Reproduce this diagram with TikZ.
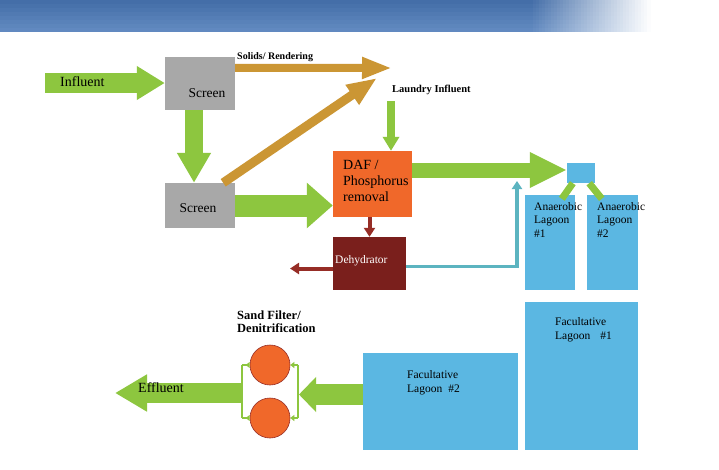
\documentclass[tikz,border=0pt]{standalone}
\usepackage{fontspec}
\setmainfont{Liberation Serif}
\usetikzlibrary{arrows.meta}
\definecolor{gr}{RGB}{141,198,63}
\definecolor{scrgray}{RGB}{168,168,168}
\definecolor{gold}{RGB}{203,150,52}
\definecolor{dafor}{RGB}{240,104,42}
\definecolor{dkred}{RGB}{122,31,28}
\definecolor{arred}{RGB}{150,45,38}
\definecolor{lagblue}{RGB}{91,183,226}
\definecolor{teal}{RGB}{92,180,192}
\definecolor{bandark}{RGB}{68,110,168}
\definecolor{banlight}{RGB}{98,138,192}
\begin{document}
\begin{tikzpicture}[x=1pt,y=-1pt,
  box/.style={rectangle,inner sep=0pt,draw=none},
  txt/.style={inner sep=0pt,anchor=west,align=left,text=black},
  fs/.style n args={2}{font=\fontsize{#1}{#2}\selectfont},
  fsb/.style n args={2}{font=\fontsize{#1}{#2}\selectfont\bfseries},
  brk/.style={draw=gr,line width=2.6pt}
]
\useasboundingbox (0,0) rectangle (719,469);
\fill[white] (0,0) rectangle (719,469);
% banner
\foreach \j in {0,...,7}{
  \pgfmathtruncatemacro\qq{100-\j*14}
  \fill[bandark!\qq!banlight] (0,4*\j) rectangle (531,4.5+4*\j);
  \foreach \i in {0,...,39}{
    \pgfmathtruncatemacro\pp{100-\i*2.5}
    \fill[bandark!\qq!banlight!\pp!white] (530+3*\i,4*\j) rectangle (533.5+3*\i,4.5+4*\j);
  }
}
\fill[white] (0,32) rectangle (719,37);

% boxes
\node[box,fill=scrgray,minimum width=70pt,minimum height=53pt] (scr1) at (200,83.5) {};
\node[box,fill=scrgray,minimum width=70pt,minimum height=45pt] (scr2) at (200,205.5) {};
\node[box,fill=dafor,minimum width=79pt,minimum height=66pt] (daf) at (372.5,184) {};
\node[box,fill=dkred,minimum width=73pt,minimum height=53pt] (dehy) at (369.5,263.5) {};
\node[box,fill=lagblue,minimum width=28pt,minimum height=20pt] (sq) at (581,173) {};
\node[box,fill=lagblue,minimum width=50pt,minimum height=95pt] (an1) at (550,242.5) {};
\node[box,fill=lagblue,minimum width=51pt,minimum height=95pt] (an2) at (612.5,242.5) {};
\node[box,fill=lagblue,minimum width=113pt,minimum height=148pt] (fac1) at (581.5,376) {};
\node[box,fill=lagblue,minimum width=155pt,minimum height=97pt] (fac2) at (440.5,401.5) {};
\node[circle,fill=dafor,draw=arred,line width=0.6pt,minimum size=40pt,inner sep=0pt] (c1) at (270,365) {};
\node[circle,fill=dafor,draw=arred,line width=0.6pt,minimum size=40pt,inner sep=0pt] (c2) at (270,418) {};

% free ends
\coordinate (inflS) at (45,83);
\coordinate (rendA) at (392,68);
\coordinate (rendB) at (377,78);
\coordinate (laun) at (391,101);
\coordinate (dout) at (290,268.5);
\coordinate (tealtip) at (517,181);
\coordinate (bL) at (242,393);
\coordinate (bR) at (298,393);
\coordinate (brR) at (299,394.5);
\coordinate (effl) at (115,393);

% green fat arrows
\draw[draw=gr,line width=20pt,-{Triangle[length=28pt,width=32pt]}] (inflS) -- (inflS -| scr1.west);
\draw[draw=gr,line width=18pt,-{Triangle[length=30pt,width=32pt]}] ([xshift=-6pt]scr1.south) -- ([xshift=-6pt]scr2.north);
\draw[draw=gr,line width=22pt,-{Triangle[length=26pt,width=44pt]}] (scr2.east) -- (scr2.east -| daf.west);
\draw[draw=gr,line width=8pt,-{Triangle[length=14pt,width=16pt]}] (laun) -- (laun |- daf.north);
\draw[draw=gr,line width=15pt,-{Triangle[length=37pt,width=33pt]}] ([yshift=14pt]daf.east) -- ([yshift=14pt]daf.east -| sq.west);
\draw[draw=gr,line width=7pt] ([xshift=6pt]sq.south west) -- ([xshift=37pt,yshift=-4pt]an1.north west);
\draw[draw=gr,line width=7pt] ([xshift=-6pt]sq.south east) -- ([xshift=15pt,yshift=-4pt]an2.north west);
% gold arrows
\draw[draw=gold,line width=8pt,-{Triangle[length=30pt,width=20pt]}] ([yshift=-11pt]scr1.north east) -- (rendA);
\draw[draw=gold,line width=9pt,-{Triangle[length=30pt,width=22pt]}] ([xshift=-12pt]scr2.north east) -- (rendB);
% dehydrator arrows
\draw[draw=arred,line width=4pt,-{Triangle[length=9pt,width=11pt]}] ([xshift=-3pt]daf.south) -- ([xshift=-3pt]daf.south |- dehy.north);
\draw[draw=arred,line width=4pt,-{Triangle[length=9pt,width=11pt]}] ([yshift=-5pt]dehy.west) -- (dout);
\draw[draw=teal,line width=3.5pt,-{Triangle[length=8pt,width=10pt]}] ([yshift=-3pt]dehy.east) -| (tealtip);
% sand filter
\draw[draw=gr,line width=21pt,-{Triangle[length=17pt,width=34pt]}] ([yshift=7pt]fac2.west) -- (brR);
\draw[brk] (c1.east -| bR) -- (c2.east -| bR);
\draw[brk] (c1.west -| bL) -- (c2.west -| bL);
\draw[brk,-{Triangle[length=4pt,width=6pt]}] (c1.east -| bR) -- (c1.east);
\draw[brk,-{Triangle[length=4pt,width=6pt]}] (c2.east -| bR) -- (c2.east);
\draw[brk,-{Triangle[length=4pt,width=6pt,reversed]}] (c1.west -| bL) -- (c1.west);
\draw[brk,-{Triangle[length=4pt,width=6pt,reversed]}] (c2.west -| bL) -- (c2.west);
\draw[draw=gr,line width=20pt,-{Triangle[length=32pt,width=35pt]}] (bL) -- (effl);

% texts
\node[txt,fs={14}{16}] (tinf) at (60,82) {Influent};
\node[txt,fs={13.5}{15},anchor=center] (tscr1) at (207,93) {Screen};
\node[txt,fs={13.5}{15},anchor=center] (tscr2) at (198,208) {Screen};
\node[txt,fsb={10}{12}] (tsol) at (237,57.5) {Solids/ Rendering};
\node[txt,fsb={10.5}{12}] (tlau) at (392,90) {Laundry Influent};
\node[txt,fs={14}{16}] (tdaf) at (343,181) {DAF /\\Phosphorus\\removal};
\node[txt,fs={11.5}{13},text=white] (tdeh) at (335,261) {Dehydrator};
\node[txt,fs={11.5}{13.5}] (tan1) at (534,220) {Anaerobic\\Lagoon\\\#1};
\node[txt,fs={11.5}{13.5}] (tan2) at (597,220) {Anaerobic\\Lagoon\\\#2};
\node[txt,fs={11.5}{14}] (tfa1) at (555,330) {Facultative\\Lagoon\hspace{10pt}\#1};
\node[txt,fs={11.5}{14}] (tfa2) at (407,383) {Facultative\\Lagoon\hspace{6pt}\#2};
\node[txt,fs={14}{16}] (teff) at (138,388) {Effluent};
\node[txt,fsb={12.5}{13.5}] (tsand) at (237,321.5) {Sand Filter/\\Denitrification};
\end{tikzpicture}
\end{document}
